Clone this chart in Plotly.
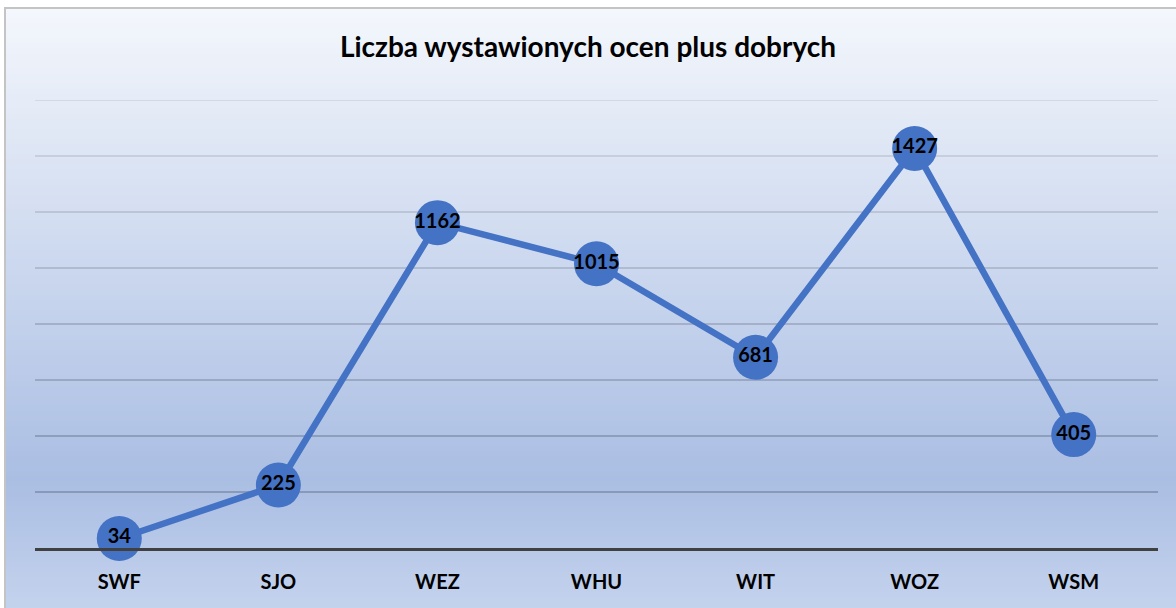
import plotly.graph_objects as go

# ---- data ----
categories = ["SWF", "SJO", "WEZ", "WHU", "WIT", "WOZ", "WSM"]
values = [34, 225, 1162, 1015, 681, 1427, 405]
grid_values = [200, 400, 600, 800, 1000, 1200, 1400, 1600]
title_text = "Liczba wystawionych ocen plus dobrych"

W, H = 1176, 608
L, R, T, B = 35, 18, 100, 60
plot_h = H - T - B
plot_w = W - L - R


def px_to_paper_y(py):
    return (H - B - py) / plot_h


def px_to_paper_x(px):
    return (px - L) / plot_w


def lerp(c1, c2, t):
    return tuple(round(a + (b - a) * t) for a, b in zip(c1, c2))


stops = [(0.0, (244, 247, 252)), (0.78, (170, 190, 227)), (1.0, (196, 211, 237))]


def grad(t):
    for (p0, c0), (p1, c1) in zip(stops[:-1], stops[1:]):
        if p0 <= t <= p1:
            return lerp(c0, c1, (t - p0) / (p1 - p0))
    return stops[-1][1]


shapes = []
top_px, bot_px = 8, 612
left_px = 5
n_bands = 120
band = (bot_px - top_px) / n_bands
for i in range(n_bands):
    y0 = top_px + i * band
    y1 = y0 + band + 0.8
    c = grad((i + 0.5) / n_bands)
    shapes.append(dict(type="rect", xref="paper", yref="paper",
                       x0=px_to_paper_x(left_px), x1=px_to_paper_x(W + 10),
                       y0=px_to_paper_y(y1), y1=px_to_paper_y(y0),
                       fillcolor="rgb(%d,%d,%d)" % c, line=dict(width=0),
                       layer="below"))
# border
shapes.append(dict(type="rect", xref="paper", yref="paper",
                   x0=px_to_paper_x(left_px), x1=px_to_paper_x(W + 10),
                   y0=px_to_paper_y(H + 10), y1=px_to_paper_y(top_px),
                   fillcolor="rgba(0,0,0,0)", line=dict(color="#C4C4C4", width=2),
                   layer="below"))
# gridlines, darker toward the bottom
gmax = max(grid_values)
for g in grid_values:
    a = 0.13 + 0.27 * (1 - g / gmax)
    shapes.append(dict(type="line", xref="paper", yref="y",
                       x0=0, x1=1, y0=g, y1=g,
                       line=dict(color="rgba(40,50,70,%.3f)" % a, width=1.6),
                       layer="below"))

fig = go.Figure()
fig.add_trace(go.Scatter(
    x=categories, y=values,
    mode="lines+markers+text",
    line=dict(color="#4472C4", width=6.5),
    marker=dict(size=45, color="#4472C4", line=dict(width=0)),
    text=[str(v) for v in values],
    textposition="middle center",
    textfont=dict(family="Lato", size=20, color="black", weight="bold"),
    cliponaxis=False,
    hoverinfo="skip",
))

fig.update_layout(
    width=W, height=H,
    margin=dict(l=L, r=R, t=T, b=B),
    paper_bgcolor="white",
    plot_bgcolor="rgba(0,0,0,0)",
    showlegend=False,
    shapes=shapes,
    title=dict(text=title_text, x=0.5, xanchor="center", y=1 - 47 / H, yanchor="middle",
               font=dict(family="Lato", size=28, color="black", weight="bold")),
    xaxis=dict(
        type="category",
        showgrid=False, zeroline=False,
        showline=True, linecolor="#404040", linewidth=3,
        ticks="", tickfont=dict(family="Lato", size=20, color="black", weight="bold"),
        ticklabelstandoff=14,
    ),
    yaxis=dict(range=[0, 1600], showgrid=False, zeroline=False, showticklabels=False,
               ticks="", showline=False),
)

fig.write_html("out.html",
               config={"displayModeBar": False},
               post_script="document.body.style.margin='0';document.body.style.overflow='hidden';")
